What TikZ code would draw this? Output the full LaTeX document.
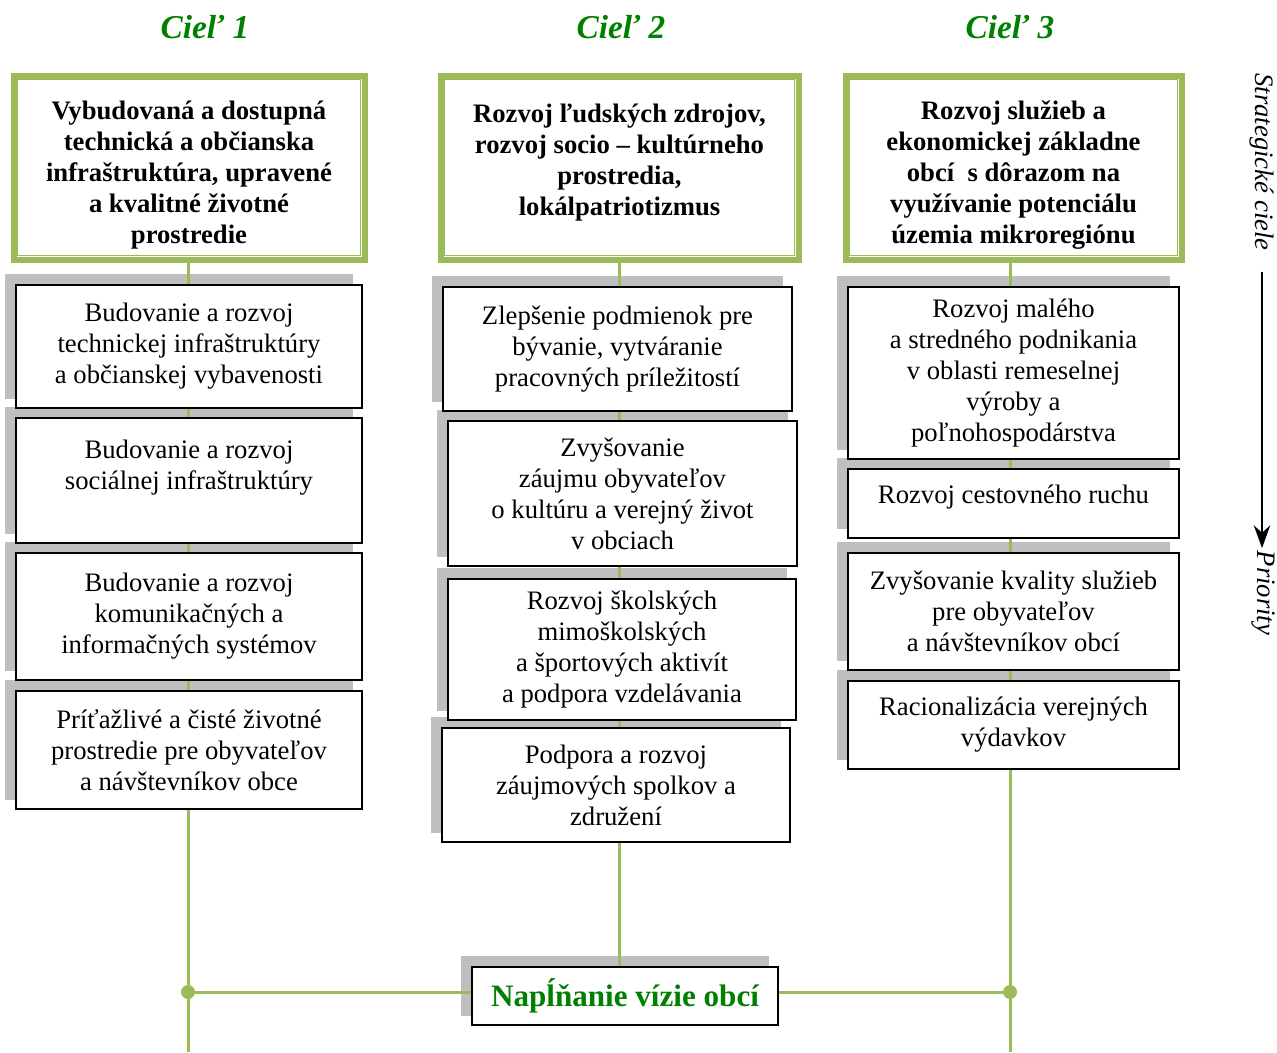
\documentclass[tikz,border=0pt]{standalone}
\usepackage{fontspec}
\setmainfont{Liberation Serif}
\usetikzlibrary{arrows.meta,calc}
\definecolor{linegreen}{RGB}{155,187,89}
\definecolor{titlegreen}{RGB}{0,128,0}
\pgfdeclarelayer{shade}
\pgfdeclarelayer{lines}
\pgfsetlayers{shade,lines,main}
\newcommand{\goaltop}{\rule{0pt}{1.25em}}

\begin{document}
\begin{tikzpicture}[x=0.45pt, y=-0.45pt,
  dims/.style 2 args={minimum width=#1*0.45pt, minimum height=#2*0.45pt},
  goal/.style={draw=linegreen, line width=2.7pt, fill=white, align=center, inner sep=0pt, font=\fontsize{12}{13.95}\selectfont\bfseries},
  prio/.style={draw, line width=0.75pt, fill=white, align=center, inner sep=0pt, font=\fontsize{12}{13.95}\selectfont},
  title/.style={text=titlegreen, font=\fontsize{15}{17}\selectfont\bfseries\itshape},
  side/.style={rotate=-90, font=\fontsize{12}{14}\selectfont\itshape},
  dot/.style={circle, fill=linegreen, minimum size=6.3pt, inner sep=0pt},
  conn/.style={draw=linegreen, line width=1.35pt},
  arr/.style={-{Stealth[length=3.6mm, width=2.6mm]}, line width=0.9pt}]
  \useasboundingbox (0,0) rectangle (1277,1052);

  \node[title] (c1) at (205,27) {Cieľ 1};
  \node[title] (c2) at (621,27) {Cieľ 2};
  \node[title] (c3) at (1010,27) {Cieľ 3};

  \node[goal, dims={351}{184}] (g1) at (189,167.5) {\goaltop Vybudovaná a dostupná\\technická a občianska\\infraštruktúra, upravené\\a kvalitné životné\\prostredie};
  \node[goal, dims={358}{184}] (g2) at (619.5,167.5) {\goaltop Rozvoj ľudských zdrojov,\\rozvoj socio -- kultúrneho\\prostredia,\\lokálpatriotizmus\\\mbox{}};
  \node[goal, dims={336}{184}] (g3) at (1013.5,167.5) {\goaltop Rozvoj služieb a\\ekonomickej základne\\obcí \ s dôrazom na\\využívanie potenciálu\\územia mikroregiónu};
  \foreach \g in {g1,g2,g3}
    \draw[linegreen, line width=0.7pt] ($(\g.south west)+(7,-7)$) rectangle ($(\g.north east)+(-7,7)$);

  \node[prio, dims={346}{123}] (p11) at (189,346.5) {Budovanie a rozvoj\\technickej infraštruktúry\\a občianskej vybavenosti};
  \node[prio, dims={346}{125}] (p12) at (189,480.5) {Budovanie a rozvoj\\sociálnej infraštruktúry\\\mbox{}};
  \node[prio, dims={346}{127}] (p13) at (189,616.5) {Budovanie a rozvoj\\komunikačných a\\informačných systémov};
  \node[prio, dims={346}{118}] (p14) at (189,750) {Príťažlivé a čisté životné\\prostredie pre obyvateľov\\a návštevníkov obce};

  \node[prio, dims={349}{124}] (p21) at (617.5,349) {Zlepšenie podmienok pre\\bývanie, vytváranie\\pracovných príležitostí};
  \node[prio, dims={349}{145}] (p22) at (622.5,493.5) {Zvyšovanie\\záujmu obyvateľov\\o kultúru a verejný život\\v obciach};
  \node[prio, dims={348}{141}] (p23) at (622,649.5) {Rozvoj školských\\mimoškolských\\a športových aktivít\\a podpora vzdelávania};
  \node[prio, dims={348}{114}] (p24) at (616,785) {Podpora a rozvoj\\záujmových spolkov a\\združení};

  \node[prio, dims={331}{172}] (p31) at (1013.5,373) {Rozvoj malého\\a stredného podnikania\\v oblasti remeselnej\\výroby a\\poľnohospodárstva};
  \node[prio, dims={331}{69}] (p32) at (1013.5,503.5) {Rozvoj cestovného ruchu\hspace{1em}\\[-6pt]\mbox{}};
  \node[prio, dims={331}{117}] (p33) at (1013.5,611.5) {Zvyšovanie kvality služieb\\pre obyvateľov\\a návštevníkov obcí};
  \node[prio, dims={331}{88}] (p34) at (1013.5,725) {Racionalizácia verejných\\výdavkov};

  \node[prio, dims={306}{58}, text=titlegreen, font=\fontsize{14}{16}\selectfont\bfseries] (vision) at (625,996) {Napĺňanie vízie obcí};
  \node[dot] (d1) at (188,992) {};
  \node[dot] (d3) at (1010,992) {};
  \coordinate (e1) at (188,1052);
  \coordinate (e3) at (1010,1052);

  \node[side] (strat) at (1262,162) {Strategické ciele};
  \node[side, inner sep=1pt] (prior) at (1263,593) {Priority};
  \draw[arr, shorten <=6pt] (strat.east) -- (strat.east |- prior.west);

  \begin{pgfonlayer}{shade}
    \foreach \n in {p11,p12,p13,p14,p21,p22,p23,p24,p31,p32,p33,p34,vision}
      \fill[black!25] ($(\n.south west)+(-10,-10)$) rectangle ($(\n.north east)+(-10,-10)$);
  \end{pgfonlayer}
  \begin{pgfonlayer}{lines}
    \draw[conn] (d1 |- g1.south) -- (e1);
    \draw[conn] (d3 |- g3.south) -- (e3);
    \draw[conn] (g2.south) -- (g2.south |- vision.north);
    \draw[conn] (d1) -- (d3);
  \end{pgfonlayer}
\end{tikzpicture}
\end{document}
